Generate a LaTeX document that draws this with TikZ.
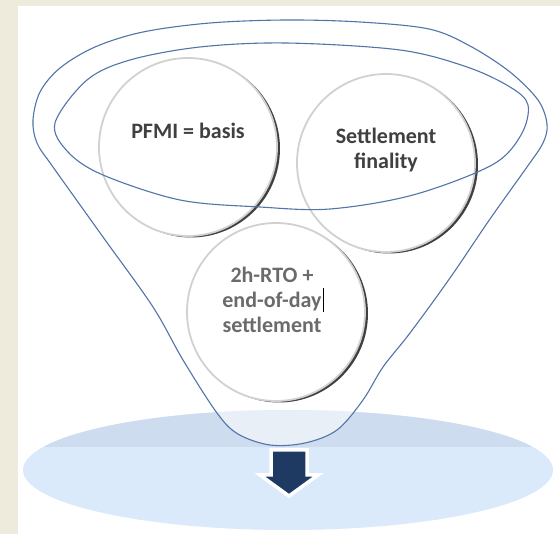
\documentclass[tikz,border=0pt]{standalone}
\usepackage{fontspec}
\setmainfont{Carlito}
\usetikzlibrary{shadows}
\definecolor{panelbg}{HTML}{EEEBDC}
\definecolor{funnelline}{HTML}{5274A8}
\definecolor{disklight}{HTML}{DBEAFA}
\definecolor{diskdark}{HTML}{CDDCEF}
\definecolor{arrownavy}{HTML}{1E3A63}
\definecolor{bubbleink}{HTML}{404040}

\begin{document}
\begin{tikzpicture}[
    x=1pt, y=-1pt,
    bubble/.style={circle, minimum size=178pt, fill=white, draw=black!18, line width=1.8pt,
        drop shadow={shadow xshift=3pt, shadow yshift=-1.5pt, opacity=0.75, fill=black}},
    bubbletext/.style={font=\fontsize{22}{25}\selectfont\bfseries, align=center, text=bubbleink},
    rim/.style={draw=funnelline, line width=1.1pt},
    blockarrow/.style={fill=arrownavy, draw=white, line width=3.5pt, line join=miter}
]

    % Background and panel
    \fill[panelbg] (0,0) rectangle (560,534);
    \fill[white] (18,6) rectangle (560,534);
    \useasboundingbox (0,0) rectangle (560,534);

    % Disk below the funnel
    \fill[disklight] (288,470) ellipse [x radius=265, y radius=60];
    \begin{scope}
        \clip (288,470) ellipse [x radius=265, y radius=60];
        \fill[diskdark] (20,400) rectangle (560,447);
    \end{scope}

    % Funnel body
    \def\funnelpath{plot[smooth cycle, tension=0.55] coordinates {
        (33,120) (40,92) (60,68) (95,47) (143,32) (210,23) (286,20) (360,22)
        (429,29) (470,46) (510,72) (538,100) (547,124) (543,143) (527,167)
        (490,219) (450,278) (410,333) (383,367) (363,400) (337,430) (305,443)
        (270,445) (238,434) (217,413) (183,360) (153,307) (103,237) (53,167) (37,143)}}
    \fill[white, opacity=0.55] \funnelpath;

    % Bubbles
    \node[bubble] (pfmi) at (188,147) {};
    \node[bubble] (finality) at (386,163) {};
    \node[bubble] (rto) at (276,312) {};

    \node[bubbletext] (pfmitext) at ([yshift=16pt]pfmi.center) {PFMI = basis};
    \node[bubbletext] (finalitytext) at ([yshift=13pt]finality.center) {Settlement\\finality};
    \node[bubbletext, text=black!58] (rtotext) at ([xshift=-4pt, yshift=12pt]rto.center)
        {2h-RTO +\\end-of-day\rlap{\hspace{1pt}\textcolor{black}{\rule[-4pt]{0.8pt}{24pt}}}\\settlement};

    % Funnel rims
    \draw[rim] \funnelpath;
    \draw[rim] plot[smooth cycle, tension=0.55] coordinates {
        (55,123) (87,80) (130,60) (200,47) (286,43) (400,50) (467,67) (510,87)
        (528,105) (521,135) (492,165) (413,195) (330,209) (260,207) (180,200)
        (103,175) (68,152)};

    % Output arrow
    \draw[blockarrow] (271,450) -- (307,450) -- (307,475) -- (318,475) -- (289,496)
        -- (260,475) -- (271,475) -- cycle;
\end{tikzpicture}
\end{document}
